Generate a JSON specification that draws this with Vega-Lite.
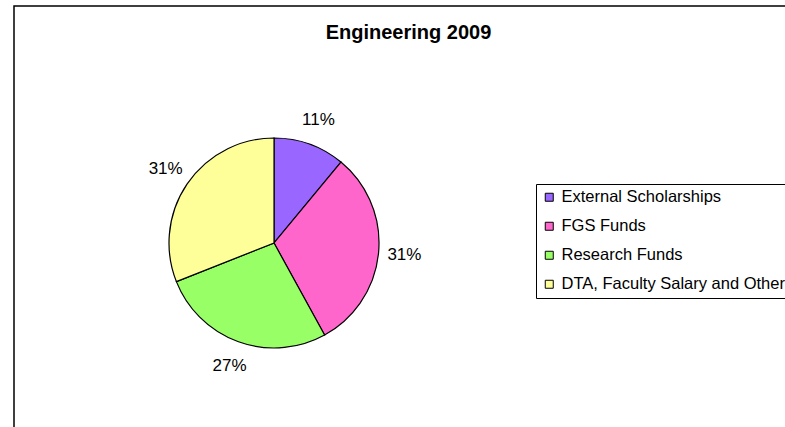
{
  "$schema": "https://vega.github.io/schema/vega-lite/v6.json",
  "width": 775,
  "height": 425,
  "autosize": {"type": "none"},
  "padding": {"left": 14, "top": 6, "right": 0, "bottom": 0},
  "background": "white",
  "title": {
    "text": "Engineering 2009",
    "font": "Liberation Sans",
    "fontSize": 20,
    "fontWeight": "bold",
    "color": "black",
    "anchor": "middle",
    "frame": "group",
    "offset": 0,
    "dy": 37,
    "dx": 7
  },
  "data": {
    "values": [
      {"chart": "Engineering 2009", "seq": 1, "source": "External Scholarships", "share": 0.11},
      {"chart": "Engineering 2009", "seq": 2, "source": "FGS Funds", "share": 0.31},
      {"chart": "Engineering 2009", "seq": 3, "source": "Research Funds", "share": 0.27},
      {"chart": "Engineering 2009", "seq": 4, "source": "DTA, Faculty Salary and Other", "share": 0.31}
    ]
  },
  "encoding": {
    "theta": {"field": "share", "type": "quantitative", "stack": true},
    "order": {"field": "seq", "type": "quantitative", "sort": "ascending"},
    "color": {
      "field": "source",
      "type": "nominal",
      "scale": {
        "domain": ["External Scholarships", "FGS Funds", "Research Funds", "DTA, Faculty Salary and Other"],
        "range": ["#9966FF", "#FF66CC", "#99FF66", "#FFFF99"]
      },
      "legend": {
        "title": null,
        "orient": "none",
        "legendX": 522,
        "legendY": 178,
        "strokeColor": "black",
        "padding": 5,
        "symbolType": "square",
        "symbolSize": 64,
        "symbolStrokeColor": "black",
        "symbolStrokeWidth": 1,
        "labelFont": "Liberation Sans",
        "labelFontSize": 16.5,
        "labelColor": "black",
        "labelLimit": 0,
        "labelOffset": 4,
        "rowPadding": 12
      }
    },
    "x": {"field": "chart", "type": "nominal", "axis": null, "scale": {"type": "point", "padding": 0, "align": 0.3355}},
    "y": {"field": "chart", "type": "nominal", "axis": null, "scale": {"type": "point", "padding": 0, "align": 0.5576}}
  },
  "layer": [
    {"mark": {"type": "arc", "radius": 105, "stroke": "black", "strokeWidth": 1.2}},
    {
      "mark": {"type": "text", "radius": 131, "font": "Liberation Sans", "fontSize": 17},
      "encoding": {
        "text": {"field": "share", "type": "quantitative", "format": ".0%"},
        "fill": {"value": "black"}
      }
    }
  ],
  "config": {"view": {"stroke": "black", "strokeWidth": 1.5}}
}
